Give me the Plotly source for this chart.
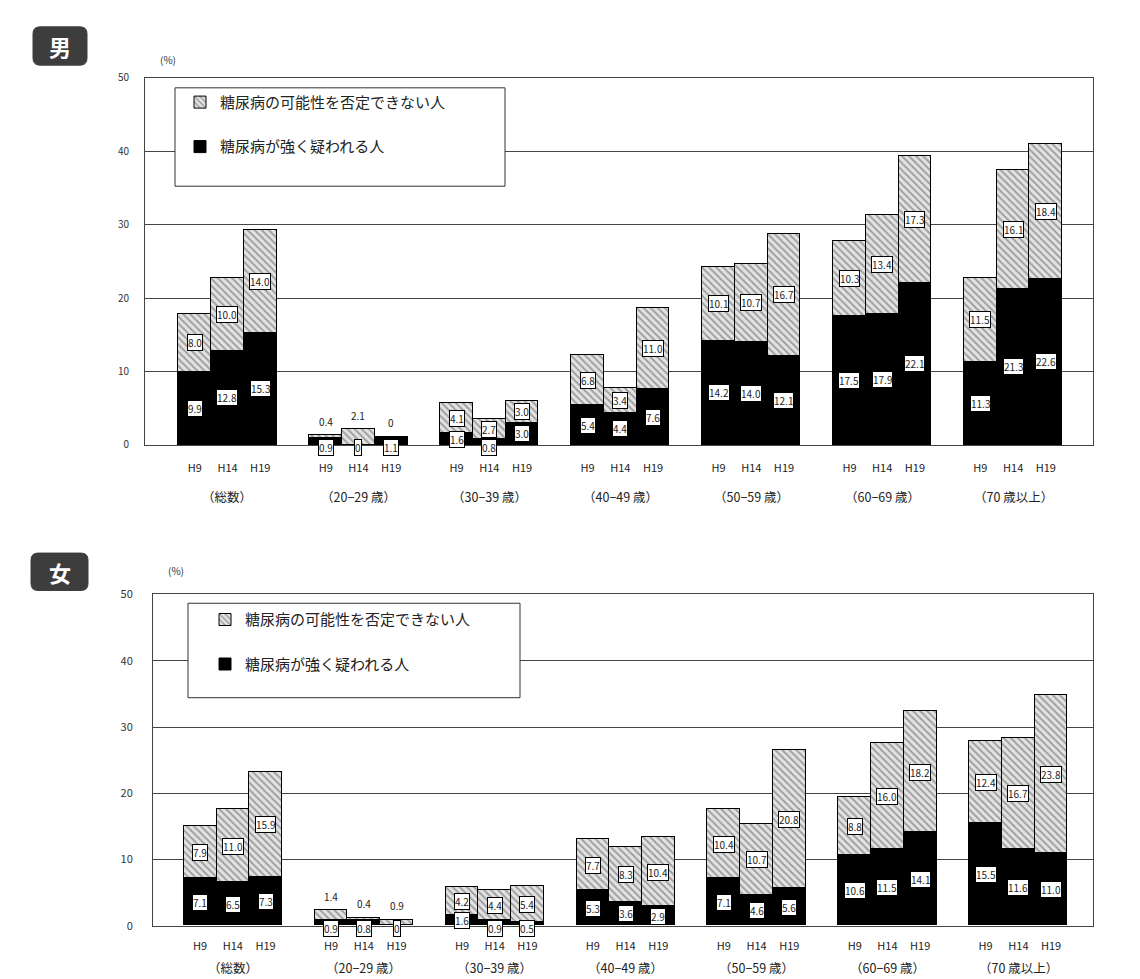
import plotly.graph_objects as go

groups = ["（総数）", "（20−29 歳）", "（30−39 歳）", "（40−49 歳）", "（50−59 歳）", "（60−69 歳）", "（70 歳以上）"]
years = ["H9", "H14", "H19"]

# 男 (male): 糖尿病が強く疑われる人 / 糖尿病の可能性を否定できない人, order: group x year
male_strong = [9.9, 12.8, 15.3, 0.9, 0.0, 1.1, 1.6, 0.8, 3.0, 5.4, 4.4, 7.6,
               14.2, 14.0, 12.1, 17.5, 17.9, 22.1, 11.3, 21.3, 22.6]
male_possible = [8.0, 10.0, 14.0, 0.4, 2.1, 0.0, 4.1, 2.7, 3.0, 6.8, 3.4, 11.0,
                 10.1, 10.7, 16.7, 10.3, 13.4, 17.3, 11.5, 16.1, 18.4]
# 女 (female)
female_strong = [7.1, 6.5, 7.3, 0.9, 0.8, 0.0, 1.6, 0.9, 0.5, 5.3, 3.6, 2.9,
                 7.1, 4.6, 5.6, 10.6, 11.5, 14.1, 15.5, 11.6, 11.0]
female_possible = [7.9, 11.0, 15.9, 1.4, 0.4, 0.9, 4.2, 4.4, 5.4, 7.7, 8.3, 10.4,
                   10.4, 10.7, 20.8, 8.8, 16.0, 18.2, 12.4, 16.7, 23.8]

NAME_POSS = "糖尿病の可能性を否定できない人"
NAME_STRONG = "糖尿病が強く疑われる人"
FONT = "Noto Sans CJK JP"
W, H = 1140, 979

BW = 0.25
xpos = [g + (j - 1) * BW for g in range(len(groups)) for j in range(len(years))]
ticktext = [y for _ in groups for y in years]

fig = go.Figure()

panels = [
    dict(strong=male_strong, poss=male_possible, xa="x", ya="y", legend="legend"),
    dict(strong=female_strong, poss=female_possible, xa="x2", ya="y2", legend="legend2"),
]


def fmt(v):
    return "0" if v == 0 else f"{v:.1f}"


LBL = dict(size=10, family=FONT, color="#222")
BOX = dict(bgcolor="white", bordercolor="black", borderwidth=1, borderpad=0)

annotations = []
for p in panels:
    fig.add_trace(go.Bar(
        x=xpos, y=p["strong"], width=BW, name=NAME_STRONG,
        marker=dict(color="#000000", line=dict(color="#000000", width=1)),
        xaxis=p["xa"], yaxis=p["ya"], legend=p["legend"], legendgroup=p["legend"] + "s",
        legendrank=2, hoverinfo="skip",
    ))
    fig.add_trace(go.Bar(
        x=xpos, y=p["poss"], width=BW, name=NAME_POSS,
        marker=dict(color="#e6e6e6", line=dict(color="#000000", width=1),
                    pattern=dict(shape="\\", fgcolor="#555555", bgcolor="#e2e2e2",
                                 size=5, solidity=0.35)),
        xaxis=p["xa"], yaxis=p["ya"], legend=p["legend"], legendgroup=p["legend"] + "p",
        legendrank=1, hoverinfo="skip",
    ))
    # value labels
    for x, s, q in zip(xpos, p["strong"], p["poss"]):
        total = s + q
        if total < 3:
            annotations.append(dict(x=x, y=total, xref=p["xa"], yref=p["ya"], text=fmt(q),
                                    showarrow=False, yshift=14, font=LBL))
        else:
            annotations.append(dict(x=x, y=s + q / 2, xref=p["xa"], yref=p["ya"], text=fmt(q),
                                    showarrow=False, font=LBL, **BOX))
        if s < 1.2:
            annotations.append(dict(x=x, y=0, xref=p["xa"], yref=p["ya"], text=fmt(s),
                                    showarrow=False, yshift=-3, font=LBL, **BOX))
        else:
            annotations.append(dict(x=x, y=s / 2, xref=p["xa"], yref=p["ya"], text=fmt(s),
                                    showarrow=False, font=LBL, **BOX))


def px(v):
    return v / W


def py(v):
    return 1 - v / H


# group labels under x axes
for g, name in enumerate(groups):
    annotations.append(dict(x=g, y=py(487), xref="x", yref="paper", yanchor="middle", text=name,
                            showarrow=False, font=dict(size=12.5, family=FONT, color="#222")))
    annotations.append(dict(x=g, y=py(966), xref="x2", yref="paper", yanchor="middle", text=name,
                            showarrow=False, font=dict(size=12.5, family=FONT, color="#222")))

# panel titles and units
shapes = []
for txt, x0, x1, y0, y1 in [("男", 25, 79, 10, 49), ("女", 23, 80, 545, 583)]:
    r = 7
    path = (f"M {x0 + r},{y0} L {x1 - r},{y0} Q {x1},{y0} {x1},{y0 + r} "
            f"L {x1},{y1 - r} Q {x1},{y1} {x1 - r},{y1} L {x0 + r},{y1} "
            f"Q {x0},{y1} {x0},{y1 - r} L {x0},{y0 + r} Q {x0},{y0} {x0 + r},{y0} Z")
    # convert pixel path to paper coordinates
    pts = []
    for tok in path.split():
        if "," in tok:
            a, b = tok.split(",")
            pts.append(f"{px(float(a)):.5f},{py(float(b)):.5f}")
        else:
            pts.append(tok)
    shapes.append(dict(type="path", xref="paper", yref="paper", path=" ".join(pts),
                       fillcolor="#3d3d3d", line=dict(color="#3d3d3d", width=1)))
    annotations.append(dict(x=px((x0 + x1) / 2), y=py((y0 + y1) / 2), xref="paper", yref="paper",
                            xanchor="center", yanchor="middle", text=f"<b>{txt}</b>", showarrow=False,
                            font=dict(size=22, family=FONT, color="white")))
for cx, cy in [(150, 43), (158, 563)]:
    annotations.append(dict(x=px(cx), y=py(cy), xref="paper", yref="paper", yanchor="middle",
                            text="(%)", showarrow=False, font=dict(size=10, family=FONT, color="#333")))

shapes += [
    dict(type="rect", xref="paper", yref="paper", x0=px(167), x1=px(497), y0=py(172), y1=py(72),
         fillcolor="white", line=dict(color="#333", width=1), layer="above"),
    dict(type="rect", xref="paper", yref="paper", x0=px(180), x1=px(512), y0=py(692), y1=py(596),
         fillcolor="white", line=dict(color="#333", width=1), layer="above"),
]

axis_common = dict(showline=True, mirror=True, linecolor="#444", linewidth=1, zeroline=False)

fig.update_layout(
    width=W, height=H,
    margin=dict(l=0, r=0, t=0, b=0),
    paper_bgcolor="white", plot_bgcolor="white",
    barmode="stack", bargap=0,
    font=dict(family=FONT, color="#222"),
    xaxis=dict(domain=[px(137), px(1085)], range=[-0.63, 6.61], tickvals=xpos, ticktext=ticktext,
               showgrid=False, ticks="", ticklabelstandoff=13, tickfont=dict(size=11), anchor="y", **axis_common),
    yaxis=dict(domain=[py(435), py(62)], range=[0, 50], dtick=10, showgrid=True, gridcolor="#444",
               ticks="", ticklabelstandoff=13, tickfont=dict(size=10, color="#333"), anchor="x", **axis_common),
    xaxis2=dict(domain=[px(145), px(1085)], range=[-0.61, 6.57], tickvals=xpos, ticktext=ticktext,
                showgrid=False, ticks="", ticklabelstandoff=10, tickfont=dict(size=11), anchor="y2", **axis_common),
    yaxis2=dict(domain=[py(924), py(587)], range=[0, 50], dtick=10, showgrid=True, gridcolor="#444",
                ticks="", ticklabelstandoff=17, tickfont=dict(size=11, color="#333"), anchor="x2", **axis_common),
    legend=dict(x=px(172), y=py(70), xanchor="left", yanchor="top", bgcolor="rgba(0,0,0,0)",
                traceorder="grouped", tracegroupgap=22, font=dict(size=15, family=FONT)),
    legend2=dict(x=px(197), y=py(596), xanchor="left", yanchor="top", bgcolor="rgba(0,0,0,0)",
                 traceorder="grouped", tracegroupgap=22, font=dict(size=15, family=FONT)),
    annotations=annotations,
    shapes=shapes,
)

fig.write_html("out.html")
